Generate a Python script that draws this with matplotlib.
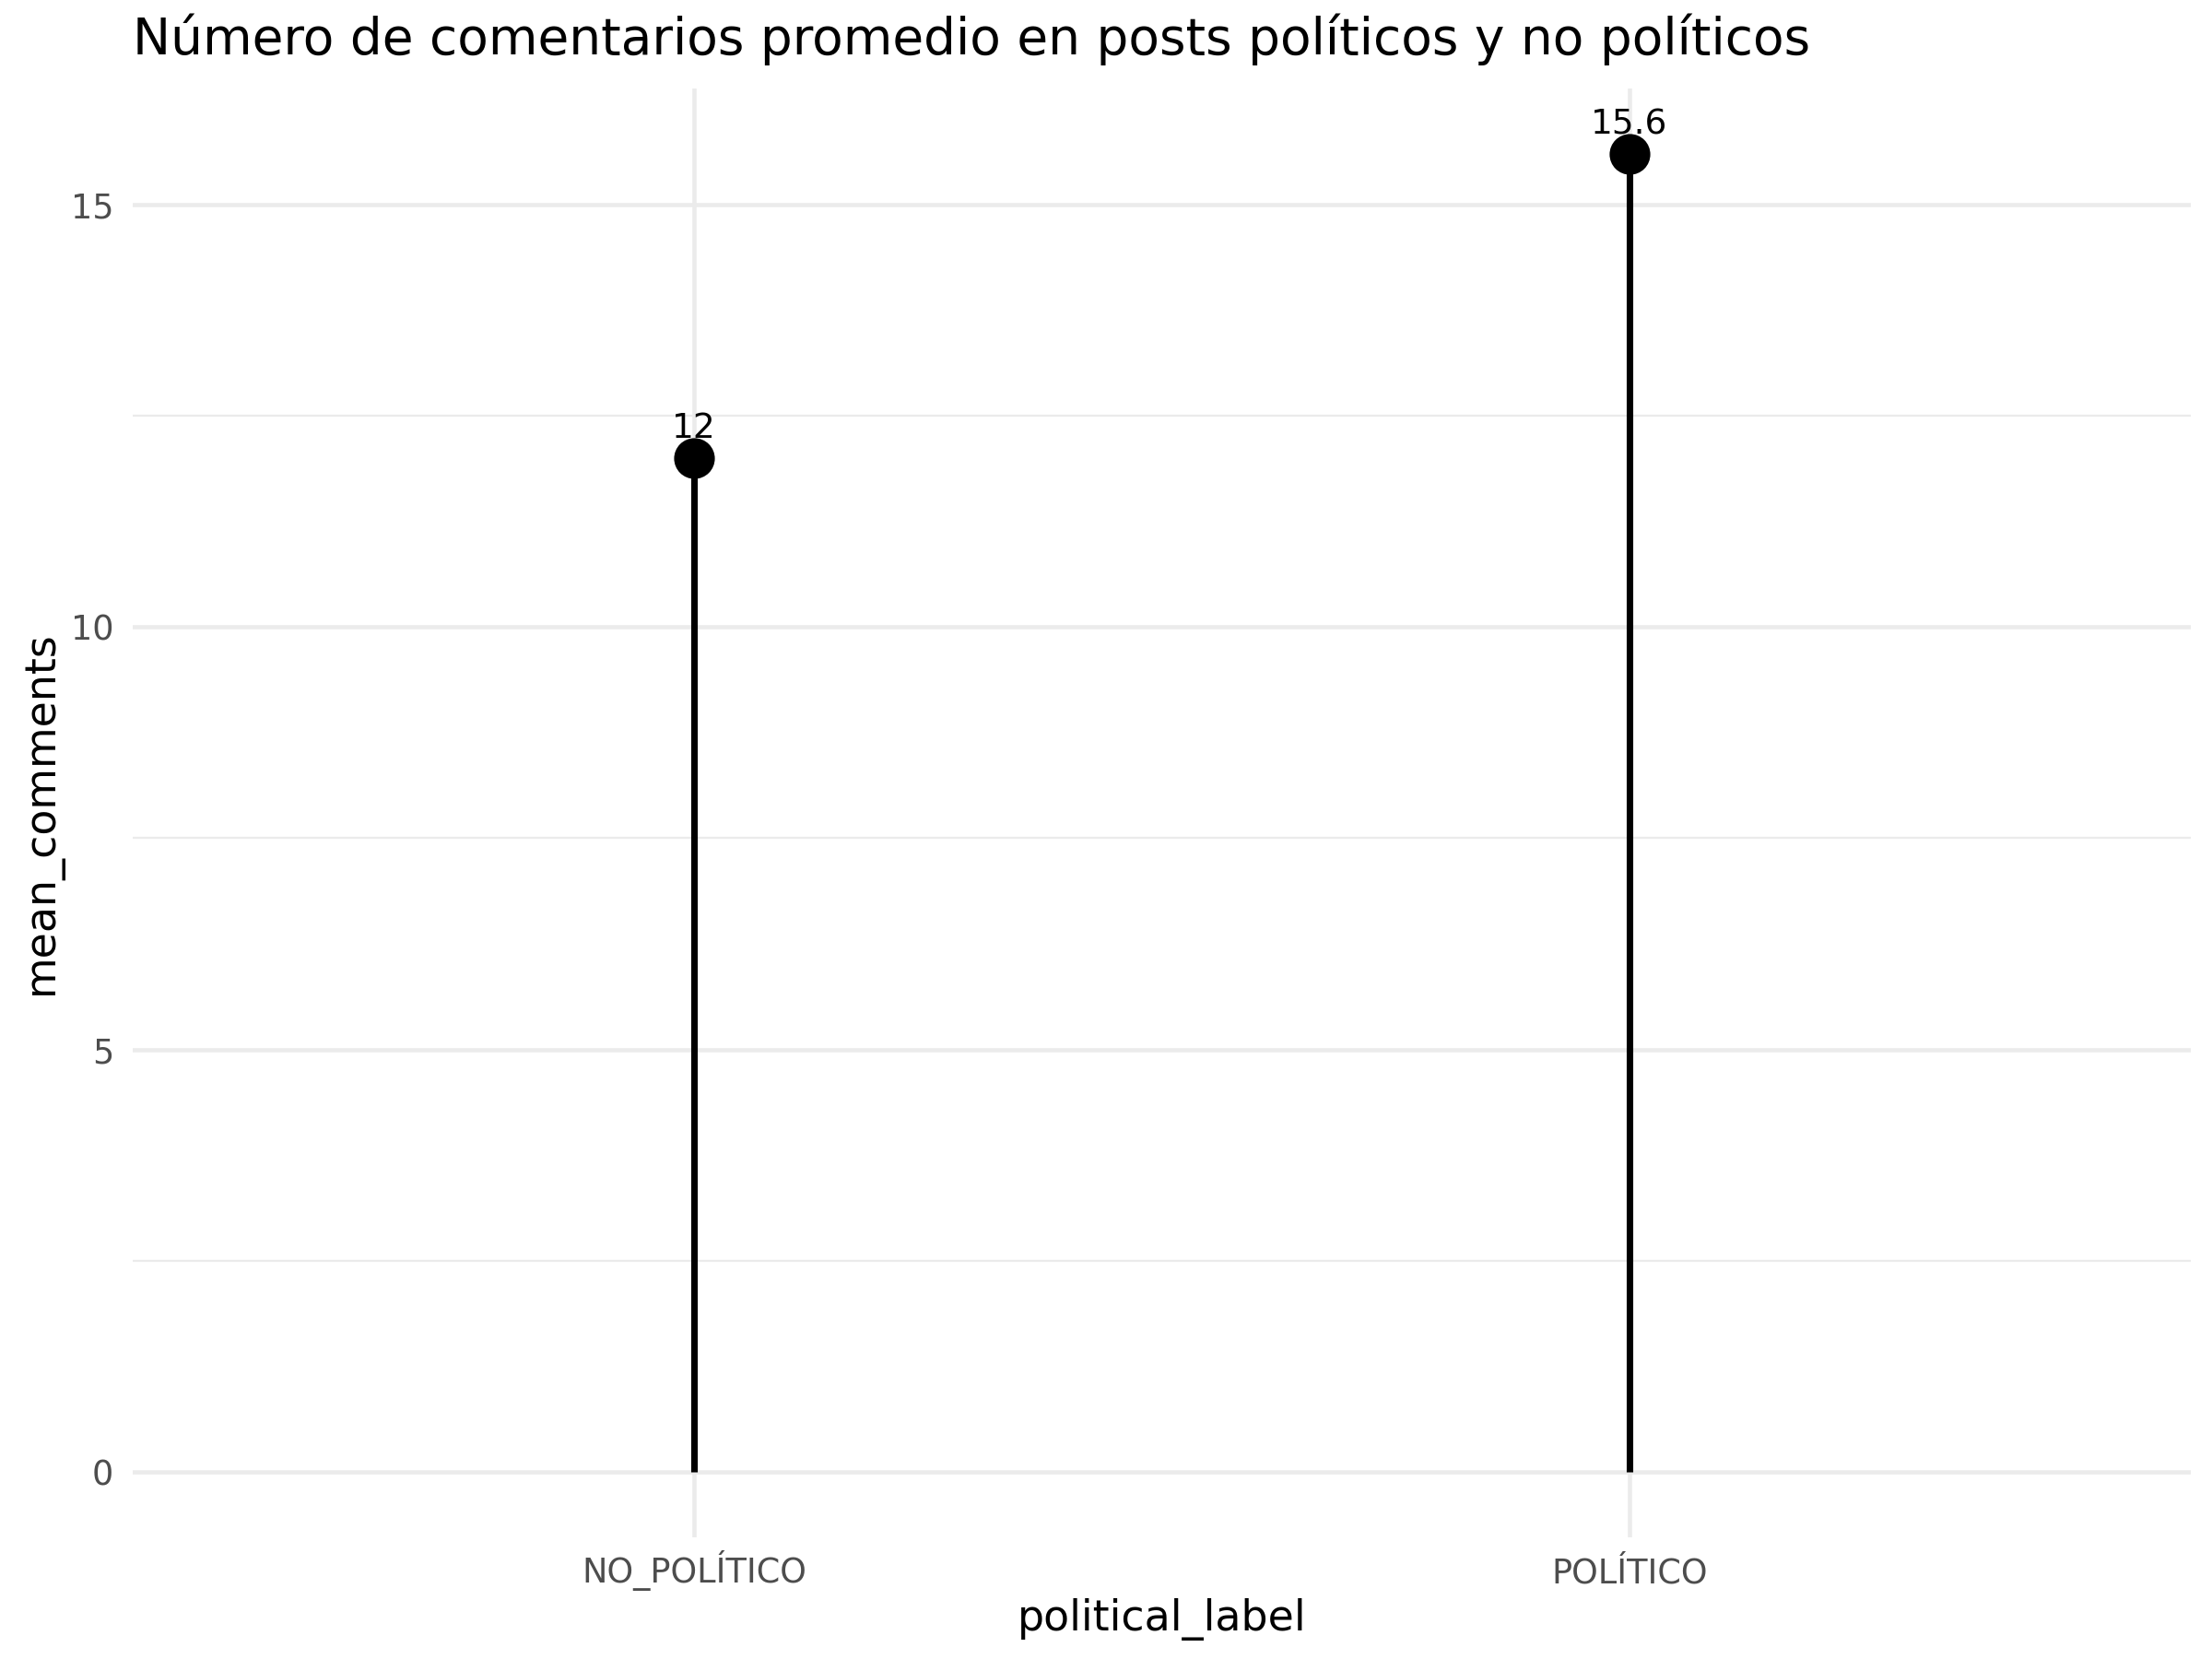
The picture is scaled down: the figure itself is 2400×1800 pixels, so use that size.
import numpy as np
import matplotlib
matplotlib.use('Agg')
import matplotlib.pyplot as plt

### data
categories = ['NO_POLÍTICO', 'POLÍTICO']
mean_comments = [12.0, 15.6]
value_labels = ['12', '15.6']
y_ticks = [0, 5, 10, 15]
y_minor = [2.5, 7.5, 12.5]

grid_col = '#EBEBEB'
tick_col = '#4D4D4D'

fig = plt.figure(figsize=(8, 6), dpi=300)
ax_rect = [0.06, 0.0733, 0.9304, 0.8734]
ax = fig.add_axes(ax_rect)

x = np.arange(1, len(categories) + 1)

### grid like ggplot theme_minimal
for yv in y_ticks:
    ax.axhline(yv, color=grid_col, lw=1.1, zorder=0)
for yv in y_minor:
    ax.axhline(yv, color=grid_col, lw=0.55, zorder=0)
for xv in x:
    ax.axvline(xv, color=grid_col, lw=1.1, zorder=0)

### lollipops
ax.vlines(x, 0, mean_comments, color='black', lw=1.7, zorder=2)
ax.plot(x, mean_comments, 'o', color='black', markersize=9.6, zorder=3)
for xi, yi, lab in zip(x, mean_comments, value_labels):
    ax.annotate(lab, (xi, yi), xytext=(0, 5.3), textcoords='offset points',
                ha='center', va='baseline', fontsize=9, color='black')

span = max(mean_comments)
ax.set_ylim(-0.05 * span, span * 1.05)
ax.set_xlim(0.4, len(categories) + 0.6)
ax.set_xticks(x)
ax.set_xticklabels(categories)
ax.set_yticks(y_ticks)
ax.tick_params(axis='both', length=0, labelsize=8.8, labelcolor=tick_col)
ax.tick_params(axis='x', pad=11.8)
ax.tick_params(axis='y', pad=5)
for lab in ax.get_xticklabels():
    lab.set_verticalalignment('baseline')
for s in ax.spines.values():
    s.set_visible(False)

### axis titles placed by hand
fig.text(ax_rect[0] + ax_rect[2] / 2, 0.0172, 'political_label',
         fontsize=11, ha='center', va='baseline')
fig.text(0.019, ax_rect[1] + ax_rect[3] / 2, 'mean_comments',
         fontsize=11, ha='center', va='center', rotation=90)
fig.text(0.06, 0.967, 'Número de comentarios promedio en posts políticos y no políticos',
         fontsize=13.2, ha='left', va='baseline')

fig.savefig('out.png', dpi=300)
